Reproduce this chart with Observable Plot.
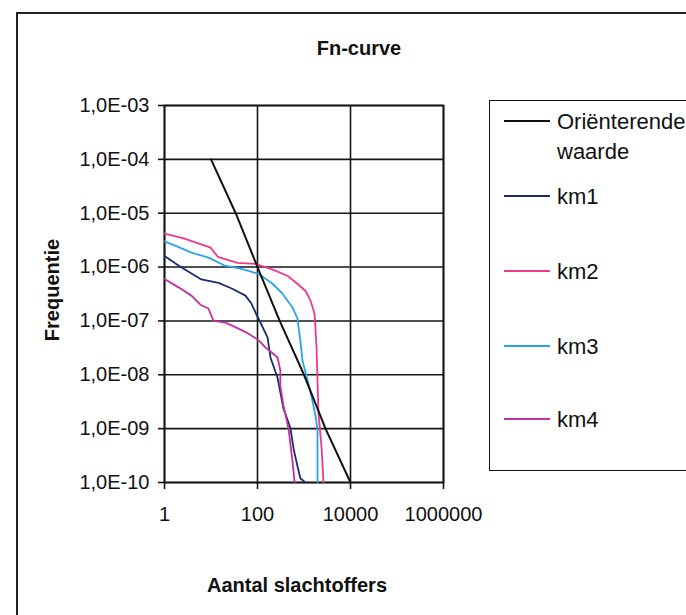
<!DOCTYPE html>
<html>
<head>
<meta charset="utf-8">
<script src="https://cdn.jsdelivr.net/npm/d3@7"></script>
<script src="https://cdn.jsdelivr.net/npm/@observablehq/plot@0.6"></script>
<style>
  body { margin: 0; background: #fff; }
  #wrap { position: relative; width: 686px; height: 615px; overflow: hidden; font-family: "Liberation Sans", Arial, sans-serif; color: #111; }
  #outer { position: absolute; left: 16px; top: 12px; width: 800px; height: 800px; border-left: 2px solid #222; border-top: 2px solid #222; }
  #plot { position: absolute; left: 0; top: 0; }
  .lbl { position: absolute; white-space: nowrap; transform: translate(-50%, -50%); }
  .bold { font-weight: bold; font-size: 20px; }
  #legend { position: absolute; left: 489px; top: 100px; width: 300px; height: 369px; border: 1.5px solid #111; }
  .entry { position: absolute; left: 14px; height: 0; }
  .entry .sw { position: absolute; left: 0; width: 46px; top: -1px; height: 2px; }
  .entry .tx { position: absolute; left: 53px; top: -14px; font-size: 22px; line-height: 30px; white-space: nowrap; }
</style>
</head>
<body>
<div id="wrap">
  <div id="outer"></div>
  <div id="plot"></div>
  <div class="lbl bold" style="left:359px; top:48px;">Fn-curve</div>
  <div class="lbl bold" style="left:52px; top:290px; transform: translate(-50%,-50%) rotate(-90deg);">Frequentie</div>
  <div class="lbl bold" style="left:297px; top:585px;">Aantal slachtoffers</div>
  <div id="legend"></div>
</div>
<script>
// Tick values and labels
const xTicks = [1, 100, 10000, 1000000];
const xTickLabels = ["1", "100", "10000", "1000000"];
const yTicks = [1e-3, 1e-4, 1e-5, 1e-6, 1e-7, 1e-8, 1e-9, 1e-10];
const yTickLabels = ["1,0E-03", "1,0E-04", "1,0E-05", "1,0E-06", "1,0E-07", "1,0E-08", "1,0E-09", "1,0E-10"];

// Series
const seriesNames = ["Oriënterende waarde", "km1", "km2", "km3", "km4"];
const seriesColors = ["#111111", "#1c2a70", "#f0388c", "#2aa4e8", "#c4309c"];

const refN = [10, 34, 100, 300, 1000, 2900, 10000];
const refF = [1e-4, 1e-5, 1e-6, 1e-7, 1e-8, 1e-9, 1e-10];

const km1N = [1, 2, 3.8, 6.2, 14.5, 28, 55, 74, 91, 116, 165, 190, 270, 360, 510, 595, 725, 835, 1070];
const km1F = [1.6e-6, 1.07e-6, 7.6e-7, 5.9e-7, 5.1e-7, 4.0e-7, 2.95e-7, 2.1e-7, 1.42e-7, 9.3e-8, 4.9e-8, 2.1e-8, 8.8e-9, 2.4e-9, 1.03e-9, 4.3e-10, 2e-10, 1.2e-10, 1e-10];

const km2N = [1, 2.6, 9.8, 14, 37, 91, 220, 440, 720, 1080, 1380, 1690, 1860, 2050, 2390, 2620];
const km2F = [4.2e-6, 3.4e-6, 2.3e-6, 1.55e-6, 1.2e-6, 1.15e-6, 8.9e-7, 6.9e-7, 4.9e-7, 3.6e-7, 2.4e-7, 1.36e-7, 3.2e-8, 1.9e-9, 4.4e-10, 1e-10];

const km3N = [1, 1.7, 3.8, 8.8, 20, 45, 105, 210, 345, 565, 725, 835, 930, 1200, 1520, 1770, 1950, 1950];
const km3F = [3.0e-6, 2.5e-6, 1.86e-6, 1.5e-6, 1.06e-6, 9.3e-7, 7.5e-7, 4.9e-7, 3.2e-7, 1.78e-7, 1.1e-7, 4.3e-8, 1.8e-8, 7.8e-9, 3.3e-9, 1.7e-9, 1e-9, 1e-10];

const km4N = [1, 2, 3.8, 5.9, 8.8, 11.3, 20.5, 39, 64, 105, 149, 190, 270, 310, 310, 360, 465, 565, 630];
const km4F = [6.0e-7, 4.2e-7, 2.95e-7, 2.0e-7, 1.7e-7, 1e-7, 9.3e-8, 7.2e-8, 5.8e-8, 4.4e-8, 3.2e-8, 2.7e-8, 2.1e-8, 1.2e-8, 6.3e-9, 2.7e-9, 1e-9, 2.5e-10, 1e-10];

const seriesData = [[refN, refF], [km1N, km1F], [km2N, km2F], [km3N, km3F], [km4N, km4F]];
const rows = [];
seriesData.forEach(([ns, fs], i) => ns.forEach((n, j) => rows.push({series: seriesNames[i], N: n, F: fs[j]})));

// Draw km series first, reference on top
const order = ["km1", "km2", "km3", "km4", "Oriënterende waarde"];

const chart = Plot.plot({
  width: 686,
  height: 615,
  marginLeft: 164,
  marginRight: 243,
  marginTop: 105,
  marginBottom: 133,
  style: {fontFamily: "'Liberation Sans', Arial, sans-serif", fontSize: "20px", background: "transparent", color: "#111"},
  x: {type: "log", domain: [1, 1000000], label: null},
  y: {type: "log", domain: [1e-10, 1e-3], label: null},
  color: {domain: seriesNames, range: seriesColors},
  marks: [
    Plot.gridX(xTicks, {stroke: "#151515", strokeOpacity: 1, strokeWidth: 1.6}),
    Plot.gridY(yTicks, {stroke: "#151515", strokeOpacity: 1, strokeWidth: 1.6}),
    Plot.frame({stroke: "#151515", strokeWidth: 1.8}),
    Plot.axisX(xTicks, {tickSize: 7, tickPadding: 17, strokeWidth: 1.6, stroke: "#151515", fontSize: 20, fill: "#111",
      tickFormat: d => xTickLabels[xTicks.indexOf(d)]}),
    Plot.axisY(yTicks, {tickSize: 6, tickPadding: 9, strokeWidth: 1.6, stroke: "#151515", fontSize: 20, fill: "#111",
      tickFormat: d => yTickLabels[yTicks.indexOf(d)]}),
    ...order.map(name => Plot.line(rows.filter(r => r.series === name), {
      x: "N", y: "F", stroke: "series", strokeWidth: name === "Oriënterende waarde" ? 2 : 1.8, curve: "linear"
    }))
  ]
});
document.getElementById("plot").appendChild(chart);

// Legend
const legendY = [121, 196, 271, 346, 419];
const legendText = ["Oriënterende<br>waarde", "km1", "km2", "km3", "km4"];
const legend = document.getElementById("legend");
seriesNames.forEach((name, i) => {
  const e = document.createElement("div");
  e.className = "entry";
  e.style.top = (legendY[i] - 101.5) + "px";
  e.innerHTML = `<div class="sw" style="background:${seriesColors[i]}"></div><div class="tx">${legendText[i]}</div>`;
  legend.appendChild(e);
});
</script>
</body>
</html>
